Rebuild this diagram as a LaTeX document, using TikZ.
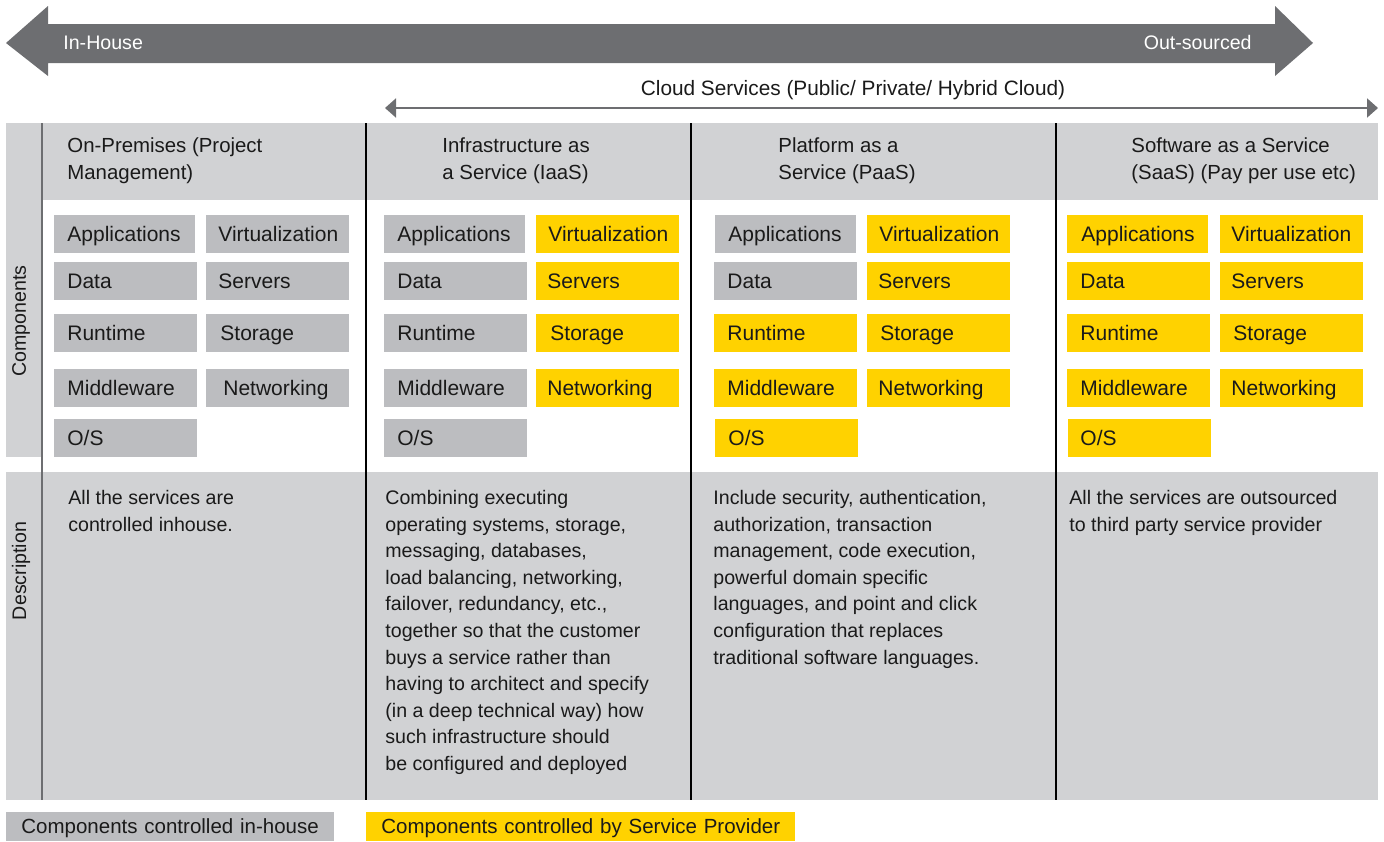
\documentclass[tikz,border=0pt]{standalone}
\usepackage{fontspec}
\setmainfont{Liberation Sans}
\usetikzlibrary{arrows.meta}
\definecolor{arrowgrey}{HTML}{6D6E71}
\definecolor{panelgrey}{HTML}{D1D2D4}
\definecolor{boxgrey}{HTML}{BCBDC0}
\definecolor{eyyellow}{HTML}{FFD200}
\definecolor{ink}{HTML}{1A1A1A}
\newcommand\compbox[8]{%
  \pgfmathsetmacro\cbw{(#4-#2)*0.5}%
  \pgfmathsetmacro\cbh{(#5-#3)*0.5}%
  \pgfmathsetmacro\cbi{#7*0.5}%
  \pgfmathsetmacro\cbt{\cbw-2*\cbi}%
  \node[cbox, fill=#6, minimum width=\cbw pt, minimum height=\cbh pt, inner xsep=\cbi pt, text width=\cbt pt] (#1) at (#2,#3) {\mbox{#8}};}
\begin{document}
\begin{tikzpicture}[x=0.5pt,y=-0.5pt,
  font=\fontsize{9.8}{13.3}\selectfont,
  cbox/.style={anchor=north west, inner ysep=0pt, align=left, text=ink, text height=7pt, text depth=0pt, font=\fontsize{10.5}{13.3}\selectfont},
  para/.style={anchor=north west, inner sep=0pt, align=left, text=ink},
  head/.style={para, font=\fontsize{10.2}{13.3}\selectfont},
  plain/.style={inner sep=0pt, text=ink},
  divider/.style={draw=black, line width=0.75pt},
  cloudarrow/.style={draw=arrowgrey, line width=1pt, {Triangle[length=5.5pt,width=9.5pt]}-{Triangle[length=5.5pt,width=9.5pt]}}]
\useasboundingbox (0,0) rectangle (1384,841);

% big in-house / out-sourced arrow
\fill[arrowgrey] (6,43) -- (48,6) -- (48,24) -- (1275,24) -- (1275,6) -- (1313,43)
  -- (1275,76) -- (1275,63) -- (48,63) -- (48,76) -- cycle;
\node[plain, text=white, anchor=base west] (inhouse) at (63,49) {In-House};
\node[plain, text=white, anchor=base east] (outsourced) at (1252,49) {Out-sourced};

% cloud services arrow
\node[plain, anchor=base, font=\fontsize{10.4}{13.3}\selectfont] (cloudlbl) at (853,95) {Cloud Services (Public/ Private/ Hybrid Cloud)};
\coordinate (cloudL) at (385,108);
\coordinate (cloudR) at (1378,108);
\draw[cloudarrow] (cloudL) -- (cloudR);

% panels
\fill[panelgrey] (6,123) rectangle (41,457);
\fill[panelgrey] (41,123) rectangle (1378,200);
\fill[panelgrey] (6,472) rectangle (1378,800);

% dividers
\draw[draw=arrowgrey, line width=1pt] (41.5,123) -- (41.5,800);
\draw[divider] (366,123) -- (366,800);
\draw[divider] (691,123) -- (691,800);
\draw[divider] (1056,123) -- (1056,800);

% row labels
\node[plain, rotate=90] (lblComp) at (21,321) {Components};
\node[plain, rotate=90] (lblDesc) at (21,571) {Description};

% headers
\node[head] (hOP) at (67,133.4) {\strut On-Premises (Project\\Management)};
\node[head] (hIA) at (442,133.4) {\strut Infrastructure as\\a Service (IaaS)};
\node[head] (hPA) at (778,133.4) {\strut Platform as a\\Service (PaaS)};
\node[head] (hSA) at (1131,133.4) {\strut Software as a Service\\(SaaS) (Pay per use etc)};

% On-premises components
\compbox{opApp}{54}{215}{195}{253}{boxgrey}{13}{Applications}
\compbox{opData}{54}{262}{197}{300}{boxgrey}{13}{Data}
\compbox{opRun}{54}{314}{197}{352}{boxgrey}{13}{Runtime}
\compbox{opMid}{54}{369}{197}{407}{boxgrey}{13}{Middleware}
\compbox{opOS}{54}{419}{197}{457}{boxgrey}{13}{O/S}
\compbox{opVirt}{206}{215}{349}{253}{boxgrey}{12}{Virtualization}
\compbox{opServ}{206}{262}{349}{300}{boxgrey}{12}{Servers}
\compbox{opStor}{206}{314}{349}{352}{boxgrey}{14}{Storage}
\compbox{opNet}{206}{369}{349}{407}{boxgrey}{17}{Networking}

% IaaS components
\compbox{iaApp}{384}{215}{525}{253}{boxgrey}{13}{Applications}
\compbox{iaData}{384}{262}{527}{300}{boxgrey}{13}{Data}
\compbox{iaRun}{384}{314}{527}{352}{boxgrey}{13}{Runtime}
\compbox{iaMid}{384}{369}{527}{407}{boxgrey}{13}{Middleware}
\compbox{iaOS}{384}{419}{527}{457}{boxgrey}{13}{O/S}
\compbox{iaVirt}{536}{215}{679}{253}{eyyellow}{12}{Virtualization}
\compbox{iaServ}{536}{262}{679}{300}{eyyellow}{11}{Servers}
\compbox{iaStor}{536}{314}{679}{352}{eyyellow}{14}{Storage}
\compbox{iaNet}{536}{369}{679}{407}{eyyellow}{11}{Networking}

% PaaS components
\compbox{paApp}{715}{215}{856}{253}{boxgrey}{13}{Applications}
\compbox{paData}{714}{262}{857}{300}{boxgrey}{13}{Data}
\compbox{paRun}{714}{314}{857}{352}{eyyellow}{13}{Runtime}
\compbox{paMid}{714}{369}{857}{407}{eyyellow}{13}{Middleware}
\compbox{paOS}{715}{419}{858}{457}{eyyellow}{13}{O/S}
\compbox{paVirt}{867}{215}{1010}{253}{eyyellow}{12}{Virtualization}
\compbox{paServ}{867}{262}{1010}{300}{eyyellow}{11}{Servers}
\compbox{paStor}{867}{314}{1010}{352}{eyyellow}{13}{Storage}
\compbox{paNet}{867}{369}{1010}{407}{eyyellow}{11}{Networking}

% SaaS components
\compbox{saApp}{1067}{215}{1208}{253}{eyyellow}{14}{Applications}
\compbox{saData}{1067}{262}{1210}{300}{eyyellow}{13}{Data}
\compbox{saRun}{1067}{314}{1210}{352}{eyyellow}{13}{Runtime}
\compbox{saMid}{1067}{369}{1210}{407}{eyyellow}{13}{Middleware}
\compbox{saOS}{1068}{419}{1211}{457}{eyyellow}{12}{O/S}
\compbox{saVirt}{1220}{215}{1363}{253}{eyyellow}{11}{Virtualization}
\compbox{saServ}{1220}{262}{1363}{300}{eyyellow}{11}{Servers}
\compbox{saStor}{1220}{314}{1363}{352}{eyyellow}{13}{Storage}
\compbox{saNet}{1220}{369}{1363}{407}{eyyellow}{11}{Networking}

% descriptions
\node[para] (dOP) at (68,485.4) {\strut All the services are\\controlled inhouse.};
\node[para] (dIA) at (385,485.4) {\strut Combining executing\\operating systems, storage,\\messaging, databases,\\load balancing, networking,\\failover, redundancy, etc.,\\together so that the customer\\buys a service rather than\\having to architect and specify\\(in a deep technical way) how\\such infrastructure should\\be configured and deployed};
\node[para] (dPA) at (713,485.4) {\strut Include security, authentication,\\authorization, transaction\\management, code execution,\\powerful domain specific\\languages, and point and click\\configuration that replaces\\traditional software languages.};
\node[para] (dSA) at (1069,485.4) {\strut All the services are outsourced\\to third party service provider};

% legend
\tikzset{cbox/.append style={font=\fontsize{10.25}{13.3}\selectfont}}
\compbox{legIn}{6}{812}{334}{841}{boxgrey}{15}{Components controlled in-house}
\compbox{legSP}{366}{812}{795}{841}{eyyellow}{15}{Components controlled by Service Provider}
\end{tikzpicture}
\end{document}
